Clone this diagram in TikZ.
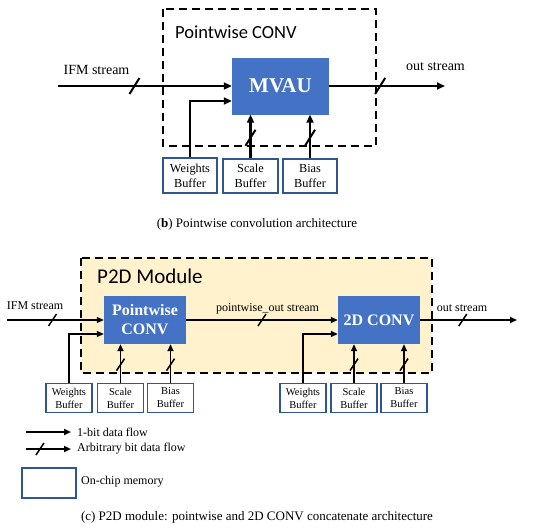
\documentclass[tikz,border=0pt]{standalone}
\usepackage{fontspec}
\setmainfont{Liberation Serif}
\newfontfamily\calibrifont{Carlito}
\usetikzlibrary{arrows.meta}

\definecolor{unitblue}{HTML}{4472C4}
\definecolor{bufblue}{HTML}{2F5597}
\definecolor{modfill}{HTML}{FFF2CC}

\tikzset{
  pics/busmark/.style={code={\draw[-, solid, line width=#1] (-5,8) -- (5,-8);}},
  pics/busmark/.default=1.8pt,
  pics/busmarksm/.style={code={\draw[-, solid, line width=1.5pt] (-4,6) -- (4,-6);}}
}

\begin{document}
\begin{tikzpicture}[
    x=1pt, y=-1pt,
    unitbox/.style={fill=unitblue, draw=none, text=white, align=center, inner sep=0pt},
    bufbox/.style={draw=bufblue, line width=1.4pt, fill=white, align=center, inner sep=0pt},
    flowbig/.style={line width=2.2pt, -{Triangle[length=8pt,width=7pt]}},
    flowsm/.style={line width=1.8pt, -{Triangle[length=7pt,width=6pt]}},
    dashbox/.style={dash pattern=on 8pt off 5pt, line width=2.4pt},
    lbltop/.style={font=\fontsize{14}{17}\selectfont, inner sep=0pt},
    lblsm/.style={font=\fontsize{12}{14}\selectfont, inner sep=0pt},
    captxt/.style={font=\fontsize{13}{15}\selectfont, inner sep=0pt}
  ]
  \useasboundingbox (0,0) rectangle (550,530);

  % (b) pointwise convolution
  \draw[dashbox] (163,9) rectangle (376,146);
  \node[font=\calibrifont\fontsize{18.5}{22}\selectfont, anchor=west, inner sep=0pt] (pwtitle) at (175,32) {Pointwise CONV};
  \node[unitbox, minimum width=97pt, minimum height=57pt, font=\bfseries\fontsize{21}{24}\selectfont] (mvau) at (280.5,86) {MVAU};
  \node[bufbox, minimum width=54pt, minimum height=35pt, font=\fontsize{12.3}{15}\selectfont] (wbufa) at (190,175.5) {Weights\\Buffer};
  \node[bufbox, minimum width=55pt, minimum height=34pt, font=\fontsize{12.3}{15}\selectfont] (sbufa) at (250.5,176) {Scale\\Buffer};
  \node[bufbox, minimum width=54pt, minimum height=34pt, font=\fontsize{12.3}{15}\selectfont] (bbufa) at (310,176) {Bias\\Buffer};
  \coordinate (ifma) at (58,86);
  \coordinate (outa) at (445,86);
  \draw[flowbig] (ifma) -- pic[pos=0.44]{busmark=2pt} (mvau.west);
  \draw[flowbig] (wbufa.north) |- ([yshift=-15pt]mvau.west);
  \draw[flowbig] (mvau.east) -- pic[pos=0.44]{busmark=2pt} (outa);
  \draw[flowbig] (sbufa.north) -- pic[pos=0.47]{busmark=2pt} (sbufa.north |- mvau.south);
  \draw[flowbig] (bbufa.north) -- pic[pos=0.47]{busmark=2pt} (bbufa.north |- mvau.south);
  \node[lbltop] (ifmlbla) at (96.5,70) {IFM stream};
  \node[lbltop] (outlbla) at (435.5,67) {out stream};
  \node[captxt] (capb) at (257,224) {(\textbf{b}) Pointwise convolution architecture};

  % (c) P2D module
  \fill[modfill] (81,258) rectangle (432,373);
  \draw[dashbox] (81,258) rectangle (432,373);
  \node[font=\calibrifont\fontsize{21}{25}\selectfont, anchor=west, inner sep=0pt] (p2dtitle) at (97,276) {P2D Module};
  \node[unitbox, minimum width=82pt, minimum height=48pt, font=\bfseries\fontsize{16}{19}\selectfont] (pwconv) at (145,320) {Pointwise\\CONV};
  \node[unitbox, minimum width=82pt, minimum height=48pt, font=\bfseries\fontsize{16}{19}\selectfont] (dconv) at (379,320) {2D CONV};
  \foreach \nm/\x/\txt in {wbufb/69/Weights, sbufb/120.5/Scale, bbufb/170.5/Bias,
                           wbufc/303/Weights, sbufc/354/Scale, bbufc/404/Bias} {
    \node[bufbox, minimum width=46pt, minimum height=29pt, font=\fontsize{10.5}{13}\selectfont] (\nm) at (\x,398) {\txt\\Buffer};
  }
  \coordinate (ifmb) at (7,320);
  \coordinate (outb) at (517,320);
  \draw[flowsm] (ifmb) -- pic[pos=0.47]{busmarksm} (pwconv.west);
  \draw[flowsm] (wbufb.north) |- ([yshift=-14pt]pwconv.west);
  \draw[flowsm] (pwconv.east) -- pic[pos=0.5]{busmarksm} (dconv.west);
  \draw[flowsm] (wbufc.north) |- ([yshift=-14pt]dconv.west);
  \draw[flowsm] (dconv.east) -- pic[pos=0.44]{busmarksm} (outb);
  \foreach \nm/\tgt in {sbufb/pwconv, bbufb/pwconv, sbufc/dconv, bbufc/dconv} {
    \draw[flowsm] (\nm.north) -- pic[pos=0.47]{busmarksm} (\nm.north |- \tgt.south);
  }
  \node[lblsm] (ifmlblb) at (35,306) {IFM stream};
  \node[lblsm] (pwoutlbl) at (267.5,309) {pointwise\_out stream};
  \node[lblsm] (outlblb) at (462,308) {out stream};

  % legend
  \coordinate (lgaa) at (26,432);
  \coordinate (lgab) at (71,432);
  \coordinate (lgba) at (26,449);
  \coordinate (lgbb) at (71,449);
  \draw[flowsm] (lgaa) -- (lgab);
  \draw[flowsm] (lgba) -- pic[pos=0.31]{busmarksm} (lgbb);
  \node[lblsm, anchor=west] (lgalbl) at (77,432) {1-bit data flow};
  \node[lblsm, anchor=west] (lgblbl) at (77,449) {Arbitrary bit data flow};
  \node[bufbox, minimum width=54pt, minimum height=30pt] (memkey) at (49,483) {};
  \node[lblsm, anchor=west] (memlbl) at (81,482) {On-chip memory};
  \node[captxt] (capc) at (257,517) {(c) P2D module: pointwise and 2D CONV concatenate architecture};
\end{tikzpicture}
\end{document}
